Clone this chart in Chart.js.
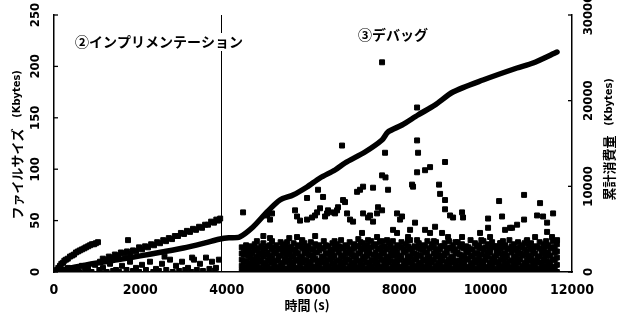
<!DOCTYPE html>
<html><head><meta charset="utf-8">
<script src="https://cdn.jsdelivr.net/npm/chart.js@4/dist/chart.umd.min.js"></script>
<style>html,body{margin:0;padding:0;background:#fff}canvas{display:block}</style>
</head><body>
<canvas id="c" width="624" height="317"></canvas>
<script>
// ---- axis / text data ----
const xTicks = [0, 2000, 4000, 6000, 8000, 10000, 12000];
const leftTicks = [0, 50, 100, 150, 200, 250];
const rightTicks = [0, 10000, 20000, 30000];
const phaseBoundary = 3870;
const phaseLabels = ['②インプリメンテーション', '③デバッグ'];
const xTitle = '時間 (s)';
const leftTitle = ['ファイルサイズ', '(Kbytes)'];
const rightTitle = ['累計消費量', '(Kbytes)'];

// ---- cumulative consumption (right axis, Kbytes) ----
const cumTime = [0, 500, 1000, 1500, 2000, 2500, 3000, 3500, 3850, 4050, 4300, 4610, 4934, 5235, 5537, 5861, 6162, 6510, 6741, 7205, 7598, 7737, 8062, 8432, 8826, 9243, 9938, 10726, 11097, 11653];
const cumKB   = [0, 580, 1050, 1450, 1880, 2330, 2800, 3400, 3850, 4000, 4090, 5253, 7004, 8405, 8988, 9922, 10973, 11907, 12724, 14008, 15409, 16342, 17160, 18327, 19494, 21012, 22412, 23813, 24397, 25681];

// ---- file size points (left axis, Kbytes) : [time, size] ----
const implBandA = [[70,2],[139,6],[208,9],[278,12],[371,15],[463,17],[556,20],[649,22],[741,24],[834,26],[927,27],[1019,29]];
const implBandA2 = [[100,4],[170,8],[240,11],[320,13],[420,16],[510,19],[600,21],[700,23],[790,25],[880,27],[970,28]];
const implBandB = [[1066,10],[1205,12],[1344,14],[1483,16],[1622,18],[1761,18],[1900,20],[2039,22],[2178,24],[2317,26],[2456,28],[2595,30],[2734,32],[2873,35],[3012,37],[3151,39],[3290,41],[3429,43],[3568,46],[3707,48],[3800,50],[3850,52]];
const implBandB2 = [[1130,13],[1270,15],[1410,17],[1550,19],[1690,20],[1830,21],[1970,24],[2110,25],[2250,27],[2390,29],[2530,31],[2660,33],[2800,35],[2940,38],[3080,40],[3220,42],[3360,44],[3500,46],[3640,49],[3760,51]];
const implLow = [[60,0],[139,1],[250,0],[324,4],[420,1],[487,2],[580,0],[649,6],[720,1],[788,3],[870,0],[950,7],[1050,2],[1135,4],[1220,0],[1298,8],[1370,1],[1437,2],[1510,0],[1576,6],[1680,2],[1761,10],[1830,1],[1900,4],[1970,0],[2039,7],[2130,2],[2224,10],[2300,0],[2363,3],[2430,1],[2502,8],[2560,15],[2600,2],[2688,12],[2750,0],[2827,6],[2900,1],[2966,10],[3040,2],[3105,4],[3180,0],[3200,14],[3244,12],[3310,2],[3382,8],[3450,1],[3521,14],[3600,3],[3660,10],[3720,1],[3753,4],[3820,12],[1715,31]];
const debugHigh = [[4380,58],[4935,55],[5005,51],[5051,57],[5584,60],[5630,54],[5700,50],[5862,51],[5978,53],[6047,55],[6094,58],[6163,62],[6325,57],[5862,72],[6117,80],[6233,73],[6464,58],[6557,60],[6696,70],[6789,57],[6928,49],[7021,78],[7160,83],[7391,82],[7600,94],[7739,80],[7160,57],[7322,55],[7484,57],[7600,60],[7947,57],[8017,51],[8295,85],[8249,41],[8411,97],[7600,204],[6673,123],[8411,160],[7669,116],[8434,116],[8411,128],[7680,92],[8596,99],[8712,102],[8318,83],[7090,80],[6742,68],[6580,63],[6348,60],[6279,54],[6511,57],[6858,51],[7275,53],[7391,49],[7507,63],[8063,54],[8364,48],[8596,41],[8712,38],[7854,41],[7947,38],[7136,38],[7275,31],[7484,34],[7716,31],[8202,34],[8411,31],[9059,107],[8920,85],[8944,76],[9059,70],[9059,61],[9175,55],[9245,53],[9453,58],[9476,53],[10311,69],[10380,54],[10056,52],[10890,75],[10890,51],[10728,46],[10612,43],[10450,41],[10056,43],[9870,38],[10102,34],[10334,28],[9453,34],[8990,38],[8828,44],[9129,34],[11191,55],[11260,67],[11330,54],[11423,48],[11562,57],[11423,39],[11538,34],[11654,31],[11145,34],[10960,31],[10566,43],[5005,33],[5300,23],[5630,34],[5750,31],[4700,30],[4850,35]];
const debugCloudTimes = [4350,4450,4550,4650,4750,4850,4950,5050,5150,5250,5350,5450,5550,5650,5750,5850,5950,6050,6150,6250,6350,6450,6550,6650,6750,6850,6950,7050,7150,7250,7350,7450,7550,7650,7750,7850,7950,8050,8150,8250,8350,8450,8550,8650,8750,8850,8950,9050,9150,9250,9350,9450,9550,9650,9750,9850,9950,10050,10150,10250,10350,10450,10550,10650,10750,10850,10950,11050,11150,11250,11350,11450,11550,11650];
const debugCloudSizes = [
 [1,6,12,18,24],[0,5,11,20,26],[2,8,14,19,25],[0,7,13,22,27],[1,4,10,17,23],[0,8,15,21,28],[2,6,12,19,25],[0,9,14,22,30],
 [1,5,11,18,26],[0,7,16,23,29],[2,10,13,20,27],[0,6,12,19,24,33],[1,8,15,21,28],[0,4,11,18,26],[2,9,14,23,30],[0,6,12,20,25],
 [1,8,16,22,29],[0,5,13,19,27,35],[2,7,11,21,26],[0,9,15,23,30],[1,6,12,18,25],[0,8,14,20,28],[2,5,11,22,27],[0,7,16,24,31],
 [1,9,13,19,26],[0,6,12,21,29],[2,8,15,23,27],[0,5,11,18,25,32],[1,7,14,22,28],[0,9,16,20,26],[2,6,12,24,30],[0,8,13,19,27],
 [1,5,15,22,29],[0,7,11,18,25],[2,9,14,23,28],[0,6,16,21,30],[1,8,12,19,26],[0,5,14,24,29],[2,7,11,20,27],[0,9,15,22,31],
 [1,6,13,18,25],[0,8,16,23,28],[2,5,12,21,26],[0,7,14,19,30],[1,9,11,24,27],[0,6,15,20,29],[2,8,13,22,25],[0,5,16,18,28],
 [1,7,12,23,30],[0,9,14,21,26],[2,6,11,19,29],[0,8,15,24,27],[1,5,13,20,25],[0,7,16,22,31],[2,9,12,18,28],[0,6,14,23,26],
 [1,8,11,21,30],[0,5,15,19,27],[2,7,13,24,29],[0,9,16,20,25],[1,6,12,22,28],[0,8,14,18,26],[2,5,11,23,31],[0,7,15,21,27],
 [1,9,13,19,29],[0,6,16,24,26],[2,8,12,20,30],[0,5,14,22,28],[1,7,11,18,25],[0,9,15,23,29],[2,6,13,21,27],[0,8,16,19,26],
 [1,5,12,24,30],[0,7,14,20,27]
];
const debugCloudTimes2 = [4400,4500,4600,4700,4800,4900,5000,5100,5200,5300,5400,5500,5600,5700,5800,5900,6000,6100,6200,6300,6400,6500,6600,6700,6800,6900,7000,7100,7200,7300,7400,7500,7600,7700,7800,7900,8000,8100,8200,8300,8400,8500,8600,8700,8800,8900,9000,9100,9200,9300,9400,9500,9600,9700,9800,9900,10000,10100,10200,10300,10400,10500,10600,10700,10800,10900,11000,11100,11200,11300,11400,11500,11600];
const debugCloudSizes2 = [
 [3,10,17,23],[4,9,16,22],[3,11,18,24],[5,10,15,21],[3,12,18,25],[4,9,17,23],[3,11,16,26],[5,10,19,24],
 [3,12,15,22],[4,9,18,25],[3,11,17,23,29],[5,10,16,24],[3,12,19,22],[4,9,15,25],[3,11,18,23,28],[5,10,17,24],
 [3,12,16,22],[4,9,19,25],[3,11,15,23],[5,10,18,26],[3,12,17,22],[4,9,16,24,30],[3,11,19,25],[5,10,15,23],
 [3,12,18,24],[4,9,17,22],[3,11,16,25],[5,10,19,23,29],[3,12,15,24],[4,9,18,22],[3,11,17,25],[5,10,16,23],
 [3,12,19,24,30],[4,9,15,22],[3,11,18,25],[5,10,17,23],[3,12,16,24],[4,9,19,22],[3,11,15,25,31],[5,10,18,23],
 [3,12,17,24],[4,9,16,22],[3,11,19,25],[5,10,15,23],[3,12,18,24,30],[4,9,17,22],[3,11,16,25],[5,10,19,23],
 [3,12,15,24],[4,9,18,22,29],[3,11,17,25],[5,10,16,23],[3,12,19,24],[4,9,15,22],[3,11,18,25],[5,10,17,23,31],
 [3,12,16,24],[4,9,19,22],[3,11,15,25],[5,10,18,23],[3,12,17,24,30],[4,9,16,22],[3,11,19,25],[5,10,15,23],
 [3,12,18,24],[4,9,17,22,28],[3,11,16,25],[5,10,19,23],[3,12,15,24],[4,9,18,22],[3,11,17,25,30],[5,10,16,23],
 [3,12,19,24]
];

// ---- build datasets from the arrays ----
const sizePoints = [];
[implBandA, implBandA2, implBandB, implBandB2, implLow, debugHigh].forEach(arr => arr.forEach(p => sizePoints.push({x: p[0], y: p[1]})));
debugCloudTimes.forEach((t, i) => debugCloudSizes[i].forEach(v => sizePoints.push({x: t, y: v})));
debugCloudTimes2.forEach((t, i) => debugCloudSizes2[i].forEach(v => sizePoints.push({x: t, y: v})));
const cumPoints = cumTime.map((t, i) => ({x: t, y: cumKB[i]}));

const TICK_FONT = "bold 14px 'Liberation Sans Narrow','DejaVu Sans Condensed','Liberation Sans',sans-serif";
const YTICK_FONT = "bold 13px 'Liberation Sans Narrow','DejaVu Sans Condensed','Liberation Sans',sans-serif";
const CJK_FONT = "bold 13px 'Noto Sans CJK JP',sans-serif";
const LAT_FONT = "bold 11px 'Liberation Sans Narrow','DejaVu Sans Condensed','Liberation Sans',sans-serif";
const ANN_FONT = "bold 14px 'Noto Sans CJK JP',sans-serif";

function rtext(ctx, s, cx, cy, font) {
  ctx.save(); ctx.translate(cx, cy); ctx.rotate(-Math.PI / 2);
  ctx.font = font; ctx.textAlign = 'center'; ctx.textBaseline = 'middle';
  ctx.fillText(s, 0, 0); ctx.restore();
}

const textPlugin = {
  id: 'texts',
  afterDraw(chart) {
    const {ctx, chartArea: a} = chart;
    const sx = chart.scales.x, sy = chart.scales.y, sy2 = chart.scales.y2;
    ctx.save();
    ctx.fillStyle = '#000'; ctx.strokeStyle = '#000';
    const bx = Math.round(sx.getPixelForValue(phaseBoundary)) + 0.5;
    ctx.lineWidth = 1;
    ctx.beginPath(); ctx.moveTo(bx, a.top); ctx.lineTo(bx, a.bottom); ctx.stroke();
    ctx.lineWidth = 1.3;
    leftTicks.forEach(v => { const p = sy.getPixelForValue(v); ctx.beginPath(); ctx.moveTo(a.left, p); ctx.lineTo(a.left + 4, p); ctx.stroke(); });
    rightTicks.forEach(v => { const p = sy2.getPixelForValue(v); ctx.beginPath(); ctx.moveTo(a.right - 4, p); ctx.lineTo(a.right, p); ctx.stroke(); });
    ctx.font = TICK_FONT; ctx.textAlign = 'center'; ctx.textBaseline = 'middle';
    xTicks.forEach(v => ctx.fillText(String(v), sx.getPixelForValue(v), 290));
    leftTicks.forEach(v => rtext(ctx, String(v), 36, sy.getPixelForValue(v), YTICK_FONT));
    rightTicks.forEach(v => rtext(ctx, String(v), 589, sy2.getPixelForValue(v), YTICK_FONT));
    ctx.font = "bold 13px 'Noto Sans CJK JP',sans-serif";
    ctx.fillText(xTitle, 307, 305);
    rtext(ctx, leftTitle[0], 17, 174, CJK_FONT);
    rtext(ctx, leftTitle[1], 17, 94, LAT_FONT);
    rtext(ctx, rightTitle[0], 609, 168, CJK_FONT);
    rtext(ctx, rightTitle[1], 609, 102, LAT_FONT);
    ctx.font = ANN_FONT; ctx.textAlign = 'left';
    const w0 = ctx.measureText(phaseLabels[0]).width;
    ctx.fillStyle = '#fff'; ctx.fillRect(74, 33, w0 + 2, 18);
    ctx.fillStyle = '#000'; ctx.fillText(phaseLabels[0], 75, 42);
    ctx.fillText(phaseLabels[1], 358, 35);
    ctx.restore();
  }
};

const axisBorder = {display: true, color: '#000', width: 1.5};
new Chart(document.getElementById('c').getContext('2d'), {
  type: 'scatter',
  data: {datasets: [
    {type: 'line', data: cumPoints, yAxisID: 'y2', xAxisID: 'x', borderColor: '#000', backgroundColor: '#000',
     borderWidth: 5.5, pointRadius: 0, tension: 0.25, fill: false, borderCapStyle: 'round', borderJoinStyle: 'round'},
    {data: sizePoints, yAxisID: 'y', xAxisID: 'x', pointStyle: 'rect', pointRadius: 3.5,
     backgroundColor: '#000', borderColor: '#000', borderWidth: 1}
  ]},
  options: {
    responsive: false, animation: false, devicePixelRatio: 1,
    layout: {padding: {top: 15, left: 0, right: 0, bottom: 0}},
    plugins: {legend: {display: false}, tooltip: {enabled: false}},
    scales: {
      x: {type: 'linear', position: 'bottom', min: 0, max: 12000,
          grid: {display: false, drawTicks: false}, ticks: {display: false}, border: axisBorder,
          afterFit(s) { s.height = 45; }},
      y: {type: 'linear', position: 'left', min: 0, max: 250,
          grid: {display: false, drawTicks: false}, ticks: {display: false}, border: axisBorder,
          afterFit(s) { s.width = 54; }},
      y2: {type: 'linear', position: 'right', min: 0, max: 30000,
          grid: {display: false, drawTicks: false}, ticks: {display: false}, border: axisBorder,
          afterFit(s) { s.width = 52; }}
    }
  },
  plugins: [textPlugin]
});
</script>
</body></html>
